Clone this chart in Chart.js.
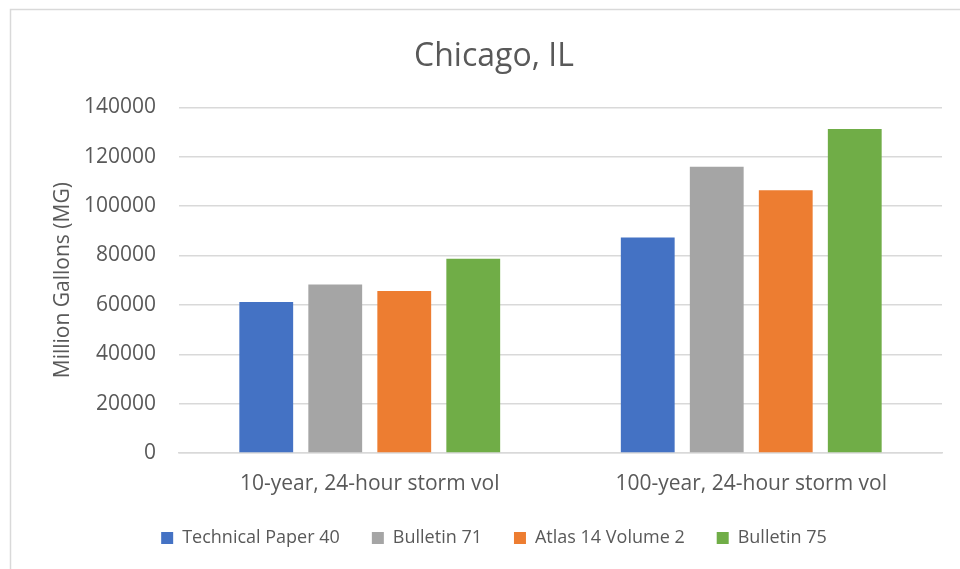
<!DOCTYPE html>
<html>
<head>
<meta charset="utf-8">
<script src="https://cdn.jsdelivr.net/npm/chart.js@4/dist/chart.umd.min.js"></script>
<style>
  html, body { margin: 0; padding: 0; background: #fff; }
  #wrap { position: relative; width: 960px; height: 569px; }
</style>
</head>
<body>
<div id="wrap"><canvas id="myChart" width="960" height="569"></canvas></div>
<script>
const categories = ['10-year, 24-hour storm vol', '100-year, 24-hour storm vol'];
const seriesNames = ['Technical Paper 40', 'Bulletin 71', 'Atlas 14 Volume 2', 'Bulletin 75'];
const tp40 = [61200, 87300];
const bulletin71 = [68300, 116000];
const atlas14 = [65600, 106400];
const bulletin75 = [78700, 131200];
const seriesColors = ['#4472C4', '#A5A5A5', '#ED7D31', '#70AD47'];

const textColor = '#595959';
const fontFamily = '"Open Sans", sans-serif';

// light frame around the chart, like the Excel chart border
const framePlugin = {
  id: 'frame',
  beforeDraw(chart) {
    const ctx = chart.ctx;
    ctx.save();
    ctx.fillStyle = '#ffffff';
    ctx.fillRect(0, 0, chart.width, chart.height);
    ctx.strokeStyle = '#d9d9d9';
    ctx.lineWidth = 1.5;
    ctx.strokeRect(10.5, 9.5, 1000, 700);
    ctx.restore();
  }
};

const allSeries = [tp40, bulletin71, atlas14, bulletin75];

const ctx = document.getElementById('myChart').getContext('2d');
const myChart = new Chart(ctx, {
  type: 'bar',
  data: {
    labels: categories,
    datasets: allSeries.map((values, i) => ({
      label: seriesNames[i],
      data: values,
      backgroundColor: seriesColors[i],
      borderWidth: 0,
      categoryPercentage: 0.7235,
      barPercentage: 0.78
    }))
  },
  options: {
    responsive: false,
    animation: false,
    layout: { padding: { left: 46, right: 18, top: 0, bottom: 12 } },
    plugins: {
      title: {
        display: true,
        text: 'Chicago, IL',
        color: textColor,
        font: { family: fontFamily, size: 32, weight: 'normal' },
        padding: { top: 38, bottom: 31 }
      },
      legend: {
        position: 'bottom',
        labels: {
          color: textColor,
          font: { family: fontFamily, size: 18 },
          boxWidth: 12,
          boxHeight: 12,
          padding: 32
        }
      },
      tooltip: { enabled: false }
    },
    scales: {
      x: {
        afterFit(scale) { scale.height = 44; },
        grid: { display: false, drawTicks: false },
        border: { display: true, color: '#d9d9d9', width: 1.5 },
        ticks: {
          color: textColor,
          font: { family: fontFamily, size: 21 },
          padding: 18,
          maxRotation: 0
        }
      },
      y: {
        min: 0,
        max: 140000,
        afterFit(scale) { scale.width = 133; },
        grid: { color: '#d9d9d9', lineWidth: 1.5, drawTicks: false },
        border: { display: false },
        ticks: {
          stepSize: 20000,
          color: textColor,
          font: { family: fontFamily, size: 21 },
          padding: 23,
          callback: v => String(v)
        },
        title: {
          display: true,
          text: 'Million Gallons (MG)',
          color: textColor,
          font: { family: fontFamily, size: 21 },
          padding: { top: 4, bottom: 4 }
        }
      }
    }
  },
  plugins: [framePlugin]
});
</script>
</body>
</html>
